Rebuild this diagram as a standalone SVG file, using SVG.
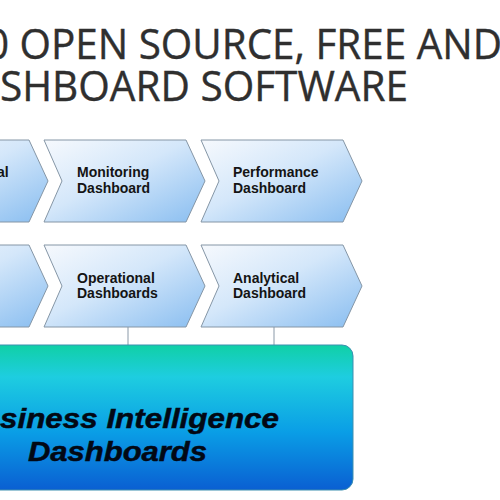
<svg xmlns="http://www.w3.org/2000/svg" width="500" height="500" viewBox="0 0 500 500">
  <defs>
    <linearGradient id="chev" x1="0" y1="0" x2="1" y2="1">
      <stop offset="0" stop-color="#f6f9fd"/>
      <stop offset="0.45" stop-color="#d4e7fa"/>
      <stop offset="1" stop-color="#88bdf0"/>
    </linearGradient>
    <linearGradient id="box" x1="0" y1="0" x2="0" y2="1">
      <stop offset="0" stop-color="#10d0a6"/>
      <stop offset="0.22" stop-color="#1ecde0"/>
      <stop offset="0.6" stop-color="#0a9ee6"/>
      <stop offset="1" stop-color="#0a5fd2"/>
    </linearGradient>
    <path id="chevShape" d="M0,0 L142,0 L161,41 L142,82 L0,82 L18,41 Z"/>
    <style>
      .title { font-family: "Open Sans", "Liberation Sans", sans-serif; font-size: 42px; fill: #2f2f2f; stroke: #2f2f2f; stroke-width: 0.4; }
      .chev { fill: url(#chev); stroke: #8596a6; stroke-width: 1; }
      .lbl { font-family: "Liberation Sans", Arial, sans-serif; font-weight: bold; font-size: 14px; fill: #141414; }
      .conn { stroke: #8a99a8; stroke-width: 1; fill: none; }
      .dot { fill: #8fa4b0; }
      .big { font-family: "Liberation Sans", Arial, sans-serif; font-weight: bold; font-style: italic; font-size: 28px; fill: #020814; stroke: #020814; stroke-width: 0.5; }
    </style>
  </defs>
  <rect width="500" height="500" fill="#ffffff"/>

  <g id="title">
    <text class="title" x="-14" y="59" textLength="516" lengthAdjust="spacingAndGlyphs">0 OPEN SOURCE, FREE AND</text>
    <text class="title" x="0" y="101" textLength="408" lengthAdjust="spacingAndGlyphs">SHBOARD SOFTWARE</text>
  </g>

  <g id="connectors">
    <line class="conn" x1="128" y1="327" x2="128" y2="349"/>
    <circle class="dot" cx="128" cy="349" r="1.5"/>
    <line class="conn" x1="274" y1="327" x2="274" y2="349"/>
    <circle class="dot" cx="274" cy="349" r="1.5"/>
  </g>

  <g id="chevron-r1-1">
    <use href="#chevShape" class="chev" x="-113" y="140"/>
    <text class="lbl" x="-3" y="177">al</text>
  </g>
  <g id="chevron-monitoring">
    <use href="#chevShape" class="chev" x="44" y="140"/>
    <text class="lbl" x="77" y="177">Monitoring</text>
    <text class="lbl" x="77" y="193">Dashboard</text>
  </g>
  <g id="chevron-performance">
    <use href="#chevShape" class="chev" x="201" y="140"/>
    <text class="lbl" x="233" y="177">Performance</text>
    <text class="lbl" x="233" y="193">Dashboard</text>
  </g>

  <g id="chevron-r2-1">
    <use href="#chevShape" class="chev" x="-113" y="245"/>
  </g>
  <g id="chevron-operational">
    <use href="#chevShape" class="chev" x="44" y="245"/>
    <text class="lbl" x="77" y="283">Operational</text>
    <text class="lbl" x="77" y="298">Dashboards</text>
  </g>
  <g id="chevron-analytical">
    <use href="#chevShape" class="chev" x="201" y="245"/>
    <text class="lbl" x="233" y="283">Analytical</text>
    <text class="lbl" x="233" y="298">Dashboard</text>
  </g>

  <g id="bi-box">
    <rect x="-60" y="345" width="413" height="145" rx="11" ry="11" fill="url(#box)" stroke="#3c8fb0" stroke-width="1"/>
    <text class="big" x="0" y="428" textLength="279" lengthAdjust="spacingAndGlyphs">siness Intelligence</text>
    <text class="big" x="28" y="461" textLength="179" lengthAdjust="spacingAndGlyphs">Dashboards</text>
  </g>
</svg>
